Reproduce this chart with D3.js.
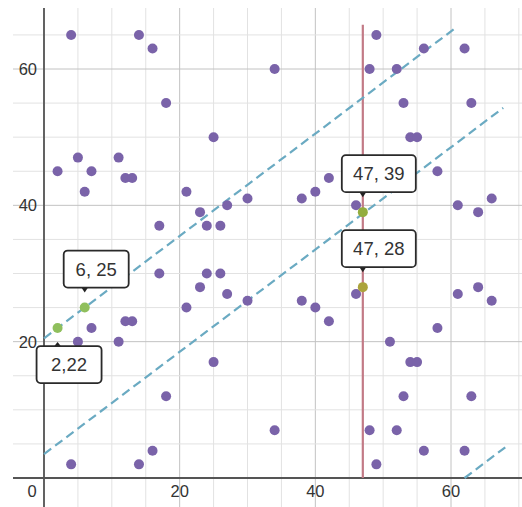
<!DOCTYPE html>
<html>
<head>
<meta charset="utf-8">
<script src="https://cdn.jsdelivr.net/npm/d3@7"></script>
<style>
  html, body { margin: 0; padding: 0; background: #fff; }
  svg { display: block; }
  text { font-family: "Liberation Sans", Arial, sans-serif; }
</style>
</head>
<body>
<svg id="chart" width="522" height="507"></svg>
<script>
// Scatter points (x, y)
const pointsX = [4, 14, 16, 18, 25, 5, 11, 2, 7, 12, 13, 6, 21, 23, 27, 30, 17, 24, 26,
  49, 34, 48, 52, 56, 62, 53, 63, 54, 55, 58, 42, 40, 38, 46, 61, 64, 66,
  17, 24, 26, 23, 27, 21, 30, 7, 12, 13, 5, 11, 25, 18, 16, 4, 14,
  38, 40, 42, 46, 34, 48, 52, 49, 56, 62, 53, 63, 54, 55, 51, 58, 61, 64, 66];
const pointsY = [65, 65, 63, 55, 50, 47, 47, 45, 45, 44, 44, 42, 42, 39, 40, 41, 37, 37, 37,
  65, 60, 60, 60, 63, 63, 55, 55, 50, 50, 45, 44, 42, 41, 40, 40, 39, 41,
  30, 30, 30, 28, 27, 25, 26, 22, 23, 23, 20, 20, 17, 12, 4, 2, 2,
  26, 25, 23, 27, 7, 7, 7, 2, 4, 4, 12, 12, 17, 17, 20, 22, 27, 28, 26];

// Highlighted points with their coordinate labels
const markX = [2, 6, 47, 47];
const markY = [22, 25, 39, 28];
const markText = ["2,22", "6, 25", "47, 39", "47, 28"];
const markBelow = [true, false, false, false];
const markColor = ["#8fbf5c", "#8fbf5c", "#93ad3e", "#aca33c"];

// Dashed segments: [x0, y0, x1, y1]
const dashX0 = [0, 0, 62];
const dashY0 = [20.5, 3.5, 0];
const dashX1 = [60.5, 67.7, 68];
const dashY1 = [65.9, 54.3, 4.5];

// Vertical line
const vLineX = 47;
const vLineTop = 66.5;

// Axis tick labels
const xTickValues = [0, 20, 40, 60];
const yTickValues = [20, 40, 60];

const svg = d3.select("#chart");
const W = 522, H = 507;
const plotLeft = 13, plotTop = 8;

const x = d3.scaleLinear().domain([0, 60]).range([44, 451]);
const y = d3.scaleLinear().domain([0, 60]).range([478, 69]);

const xMin = x.invert(plotLeft), xMax = x.invert(W);
const yMin = y.invert(H), yMax = y.invert(plotTop);

const grid = svg.append("g");
// grid every 5 units, darker every 20
const gridX = d3.range(Math.ceil(xMin / 5) * 5, xMax, 5);
const gridY = d3.range(Math.ceil(yMin / 5) * 5, yMax, 5);
grid.selectAll(".gx").data(gridX).join("line")
  .attr("x1", d => x(d)).attr("x2", d => x(d))
  .attr("y1", plotTop).attr("y2", H)
  .attr("stroke", d => d % 20 === 0 ? "#c2c2c2" : "#e2e2e2")
  .attr("stroke-width", 1);
grid.selectAll(".gy").data(gridY).join("line")
  .attr("y1", d => y(d)).attr("y2", d => y(d))
  .attr("x1", plotLeft).attr("x2", W)
  .attr("stroke", d => d % 20 === 0 ? "#c2c2c2" : "#e2e2e2")
  .attr("stroke-width", 1);

// axes
svg.append("line").attr("x1", x(0)).attr("x2", x(0)).attr("y1", plotTop).attr("y2", H)
  .attr("stroke", "#555").attr("stroke-width", 1.8);
svg.append("line").attr("y1", y(0)).attr("y2", y(0)).attr("x1", plotLeft).attr("x2", W)
  .attr("stroke", "#555").attr("stroke-width", 1.8);

// tick labels
svg.selectAll(".xt").data(xTickValues).join("text")
  .attr("x", d => d === 0 ? x(0) - 12 : x(d))
  .attr("y", y(0) + 19)
  .attr("text-anchor", "middle")
  .attr("font-size", 16.5).attr("fill", "#333")
  .text(d => d);
svg.selectAll(".yt").data(yTickValues).join("text")
  .attr("x", x(0) - 7)
  .attr("y", d => y(d) + 6)
  .attr("text-anchor", "end")
  .attr("font-size", 16.5).attr("fill", "#333")
  .text(d => d);

// vertical line
svg.append("line")
  .attr("x1", x(vLineX)).attr("x2", x(vLineX))
  .attr("y1", y(0)).attr("y2", y(vLineTop))
  .attr("stroke", "#c27a86").attr("stroke-width", 2.2);

// dashed segments
svg.selectAll(".dash").data(d3.range(dashX0.length)).join("line")
  .attr("x1", i => x(dashX0[i])).attr("y1", i => y(dashY0[i]))
  .attr("x2", i => x(dashX1[i])).attr("y2", i => y(dashY1[i]))
  .attr("stroke", "#6aaac2").attr("stroke-width", 2.2)
  .attr("stroke-dasharray", "9,5");

// scatter points
svg.selectAll(".pt").data(d3.range(pointsX.length)).join("circle")
  .attr("cx", i => x(pointsX[i])).attr("cy", i => y(pointsY[i]))
  .attr("r", 5).attr("fill", "#7a63a9");

// highlighted points
svg.selectAll(".mk").data(d3.range(markX.length)).join("circle")
  .attr("cx", i => x(markX[i])).attr("cy", i => y(markY[i]))
  .attr("r", 5).attr("fill", (i) => markColor[i]);

// coordinate labels
const labels = svg.selectAll(".lbl").data(d3.range(markX.length)).join("g");
labels.each(function (i) {
  const g = d3.select(this);
  const px = x(markX[i]), py = y(markY[i]);
  const w = markText[i].length > 5 ? 74 : 65;
  const h = 37;
  const bx = px - 21;
  const by = markBelow[i] ? py + 18 : py - 20 - h;
  // pointer
  const tipY = markBelow[i] ? by - 4 : by + h + 5;
  const baseY = markBelow[i] ? by + 1 : by + h - 1;
  g.append("path")
    .attr("d", `M${px - 4},${baseY} L${px + 4},${baseY} L${px},${tipY} Z`)
    .attr("fill", "#222");
  g.append("rect")
    .attr("x", bx).attr("y", by).attr("width", w).attr("height", h)
    .attr("rx", 4).attr("fill", "#fff")
    .attr("stroke", "#2a2a2a").attr("stroke-width", 1.8);
  g.append("text")
    .attr("x", bx + w / 2).attr("y", by + h / 2 + 6.5)
    .attr("text-anchor", "middle")
    .attr("font-size", 18.5).attr("fill", "#333")
    .text(markText[i]);
});
</script>
</body>
</html>
